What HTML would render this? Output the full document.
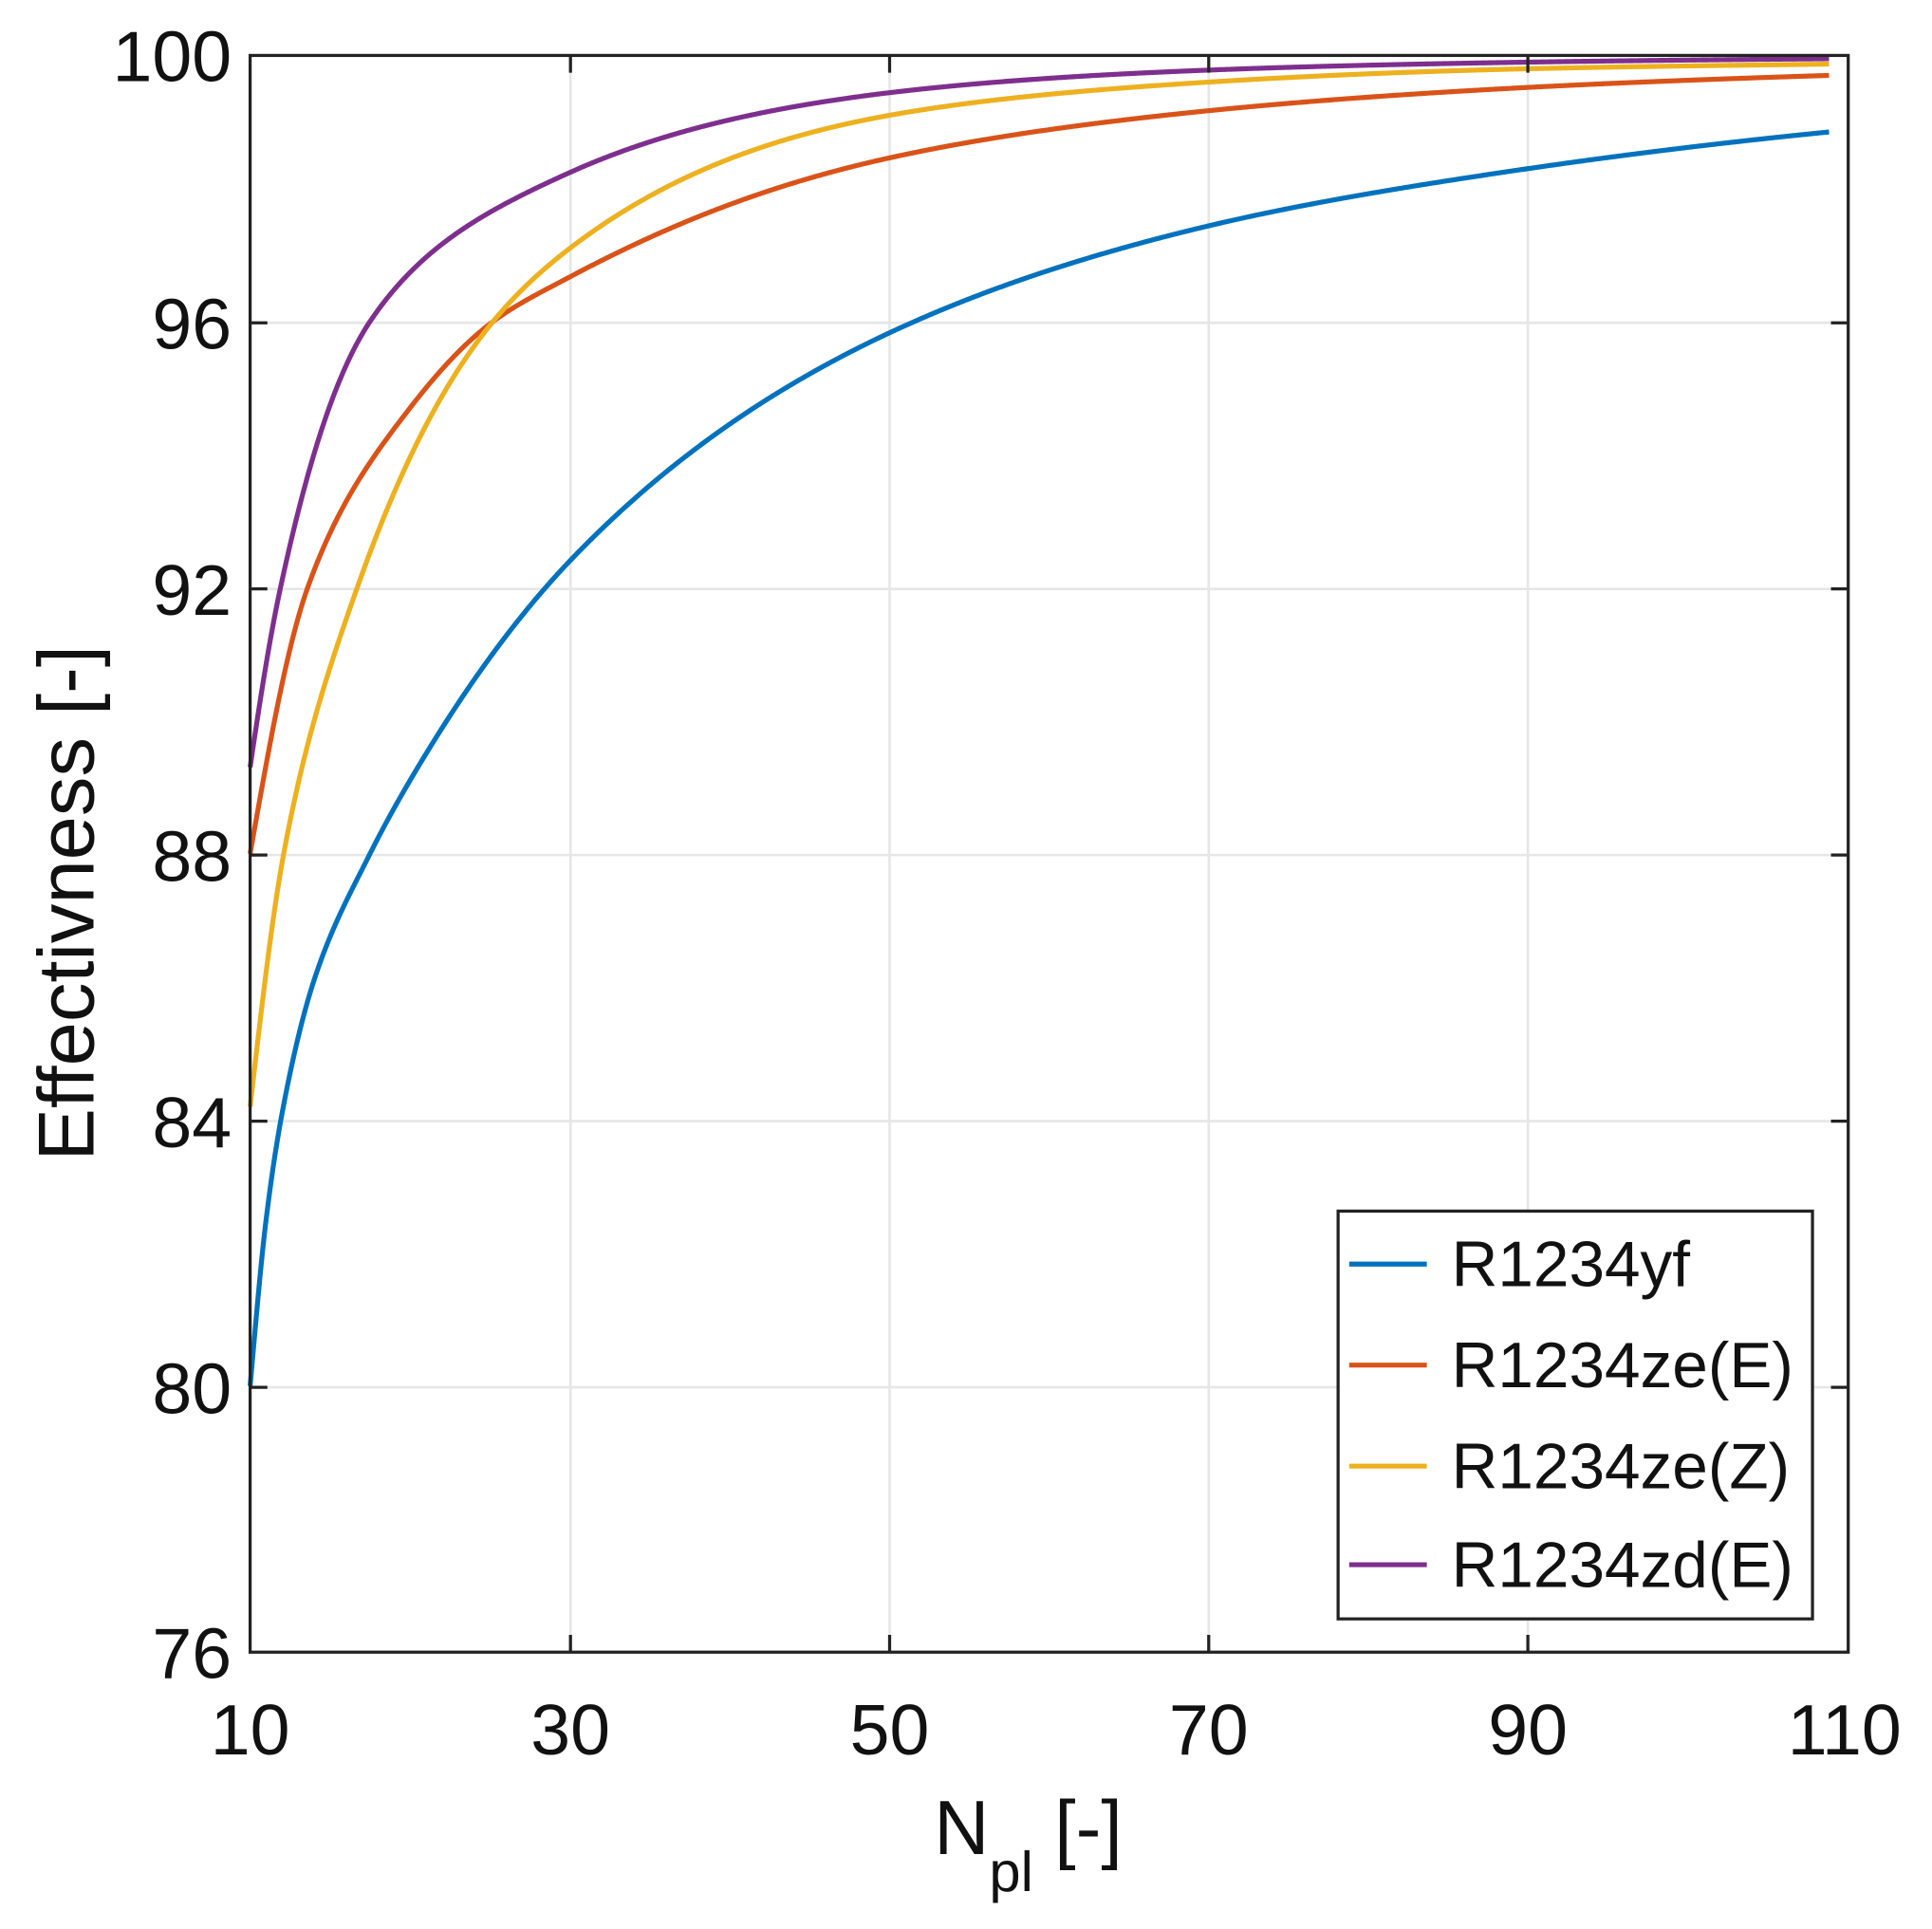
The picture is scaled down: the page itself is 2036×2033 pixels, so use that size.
<!DOCTYPE html>
<html><head><meta charset="utf-8"><style>html,body{margin:0;padding:0;background:#fff}svg{display:block}</style></head>
<body>
<svg id="s" width="2036" height="2033" viewBox="0 0 1568 1565.7" preserveAspectRatio="none" xmlns="http://www.w3.org/2000/svg" font-family="'Liberation Sans', sans-serif">
<rect width="1568" height="1566" fill="#fff"/>
<g stroke="#e6e6e6" stroke-width="2">
<line x1="463" y1="45" x2="463" y2="1341"/><line x1="722" y1="45" x2="722" y2="1341"/>
<line x1="981" y1="45" x2="981" y2="1341"/><line x1="1240" y1="45" x2="1240" y2="1341"/>
<line x1="203" y1="262" x2="1500" y2="262"/><line x1="203" y1="478" x2="1500" y2="478"/>
<line x1="203" y1="694" x2="1500" y2="694"/><line x1="203" y1="910" x2="1500" y2="910"/>
<line x1="203" y1="1126" x2="1500" y2="1126"/>
</g>
<g id="curves" fill="none" stroke-width="4"></g>
<g stroke="#222" stroke-width="2.5" fill="none">
<rect x="203" y="45" width="1297" height="1296"/>
<path d="M463 1341v-14M722 1341v-14M981 1341v-14M1240 1341v-14M463 45v14M722 45v14M981 45v14M1240 45v14M203 262h14M203 478h14M203 694h14M203 910h14M203 1126h14M1500 262h-14M1500 478h-14M1500 694h-14M1500 910h-14M1500 1126h-14"/>
</g>
<g font-size="58" fill="#111" text-anchor="end">
<text x="188" y="66">100</text><text x="188" y="283">96</text><text x="188" y="499">92</text>
<text x="188" y="715">88</text><text x="188" y="931">84</text><text x="188" y="1147">80</text><text x="188" y="1362">76</text>
</g>
<g font-size="58" fill="#111" text-anchor="middle">
<text x="203" y="1424">10</text><text x="463" y="1424">30</text><text x="722" y="1424">50</text>
<text x="981" y="1424">70</text><text x="1240" y="1424">90</text><text x="1497" y="1424">110</text>
</g>
<text x="758" y="1505" font-size="62" fill="#111">N<tspan font-size="46" dy="30">pl</tspan><tspan dy="-30"> [-]</tspan></text>
<text transform="translate(76,733) rotate(-90)" font-size="64" fill="#111" text-anchor="middle">Effectivness [-]</text>
<rect x="1086" y="983" width="385" height="331" fill="#fff" stroke="#222" stroke-width="2.5"/>
<g stroke-width="4">
<line x1="1095" y1="1026" x2="1158" y2="1026" stroke="#0072bd"/>
<line x1="1095" y1="1108" x2="1158" y2="1108" stroke="#d95319"/>
<line x1="1095" y1="1190" x2="1158" y2="1190" stroke="#edb120"/>
<line x1="1095" y1="1270" x2="1158" y2="1270" stroke="#7e2f8e"/>
</g>
<g font-size="52" fill="#111">
<text x="1178" y="1044">R1234yf</text><text x="1178" y="1126">R1234ze(E)</text>
<text x="1178" y="1208">R1234ze(Z)</text><text x="1178" y="1288">R1234zd(E)</text>
</g>
</svg>
<script>
var S=[
["#0072bd",[[10,20],[11,17.5],[12,15.9],[14,13.9],[17.5,12],[20,10.9],[30,7.6],[50,4.17],[70,2.56],[90,1.7],[108.8,1.15]]],
["#d95319",[[10,12],[13.6,8],[20,5.3],[25.2,4],[30,3.33],[50,1.54],[70,0.83],[90,0.48],[108.8,0.3]]],
["#edb120",[[10,15.8],[12.1,12],[16.7,8],[25.2,4],[30,2.9],[50,0.9],[70,0.4],[90,0.2],[108.8,0.13]]],
["#7e2f8e",[[10,10.7],[11.9,8],[17.5,4],[30,1.76],[50,0.56],[70,0.22],[108.8,0.05]]]];
function X(n){return 203+(n-10)*12.97}function Y(v){return 45+(100-v)*54}
function mono(xs,ys){var n=xs.length,d=[],m=[];for(var i=0;i<n-1;i++)d.push((ys[i+1]-ys[i])/(xs[i+1]-xs[i]));
m[0]=d[0];m[n-1]=d[n-2];for(i=1;i<n-1;i++){if(d[i-1]*d[i]<=0)m[i]=0;else{var w1=2*(xs[i+1]-xs[i])+(xs[i]-xs[i-1]),w2=(xs[i+1]-xs[i])+2*(xs[i]-xs[i-1]);m[i]=(w1+w2)/(w1/d[i-1]+w2/d[i]);}}
return function(x){var k=0;while(k<n-2&&x>xs[k+1])k++;var h=xs[k+1]-xs[k],t=(x-xs[k])/h,t2=t*t,t3=t2*t;
return (2*t3-3*t2+1)*ys[k]+(t3-2*t2+t)*h*m[k]+(-2*t3+3*t2)*ys[k+1]+(t3-t2)*h*m[k+1];};}
var g=document.getElementById('curves');
S.forEach(function(s){var xs=s[1].map(function(a){return a[0]}),ys=s[1].map(function(a){return Math.log(a[1])});
var f=mono(xs,ys),d="";
for(var x=10;x<=108.8;x+=0.1){var v=100-Math.exp(f(x));d+=(d?" L":"M")+X(x).toFixed(2)+" "+Y(v).toFixed(2);}
var e=document.createElementNS("http://www.w3.org/2000/svg","path");e.setAttribute("d",d);e.setAttribute("stroke",s[0]);e.setAttribute("stroke-linejoin","round");g.appendChild(e);});
</script>
</body></html>
